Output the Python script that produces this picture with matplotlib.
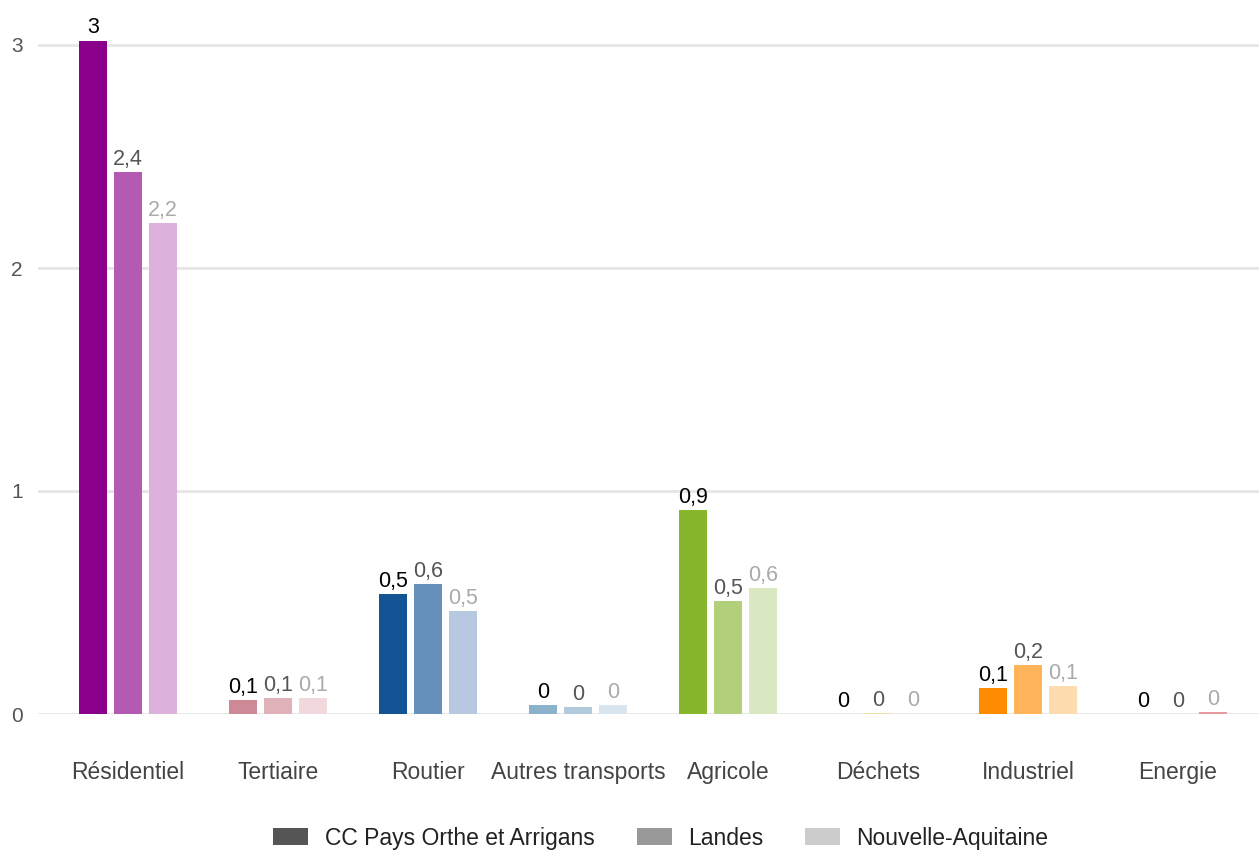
import matplotlib
matplotlib.use("Agg")
import matplotlib.pyplot as plt
from matplotlib.patches import Patch
import numpy as np

plt.rcParams['font.family'] = ['Liberation Sans', 'DejaVu Sans']

categories = ["Résidentiel", "Tertiaire", "Routier", "Autres transports",
              "Agricole", "Déchets", "Industriel", "Energie"]
series_names = ["CC Pays Orthe et Arrigans", "Landes", "Nouvelle-Aquitaine"]

cc_values = [3.02, 0.063, 0.538, 0.04, 0.915, 0.0, 0.117, 0.0]
landes_values = [2.43, 0.072, 0.583, 0.031, 0.507, 0.003, 0.22, 0.0]
na_values = [2.20, 0.072, 0.462, 0.04, 0.565, 0.002, 0.126, 0.008]

# one colour per category, three shades (dark -> light)
colors_cc = ["#8b008b", "#cd8a96", "#125494", "#8ab3cb", "#87b52c", "#e8d48a", "#ff8c00", "#d84050"]
colors_landes = ["#b35ab3", "#e0b1b9", "#6690bc", "#b1cbdc", "#b2d07a", "#f0e0a8", "#ffb35a", "#e68890"]
colors_na = ["#dcb1dc", "#f0d8dc", "#b6c9e0", "#d9e6ef", "#d9e8c0", "#f5ebc8", "#ffdbb0", "#e89aa0"]

legend_colors = ["#555555", "#999999", "#cccccc"]
label_colors = ["#000000", "#555555", "#aaaaaa"]


def fmt(v):
    s = f"{v:.1f}".replace(".", ",")
    if s.endswith(",0"):
        s = s[:-2]
    return s


fig = plt.figure(figsize=(12.59, 8.5), dpi=100)
ax = fig.add_axes([38 / 1259, 136 / 850, 1 - 38 / 1259, 714 / 850])

x = np.arange(len(categories))
step = 0.233
width = 0.187

all_series = [cc_values, landes_values, na_values]
all_colors = [colors_cc, colors_landes, colors_na]

for k, (vals, cols) in enumerate(zip(all_series, all_colors)):
    pos = x + (k - 1) * step
    ax.bar(pos, vals, width=width, color=cols, zorder=3)
    for p, v in zip(pos, vals):
        ax.annotate(fmt(v), (p, v), xytext=(0, 1.5), textcoords="offset points",
                    ha="center", va="bottom", fontsize=15.5, color=label_colors[k],
                    annotation_clip=False)

ax.set_xlim(-0.6, 7.54)
ax.set_ylim(0, 714 / 223)
ax.set_yticks([0, 1, 2, 3])
ax.set_yticklabels(["0", "1", "2", "3"])
ax.set_xticks(x)
ax.set_xticklabels(categories)

ax.grid(axis="y", color="#e6e6e6", linewidth=2, zorder=0)
ax.tick_params(axis="y", length=0, pad=11, labelsize=15, labelcolor="#555555")
ax.tick_params(axis="x", length=0, pad=34, labelsize=16.5, labelcolor="#444444")
for s in ax.spines.values():
    s.set_visible(False)

handles = [Patch(facecolor=c, edgecolor="none") for c in legend_colors]
fig.legend(handles, series_names, loc="center", bbox_to_anchor=(0.525, 0.014),
           ncol=3, frameon=False, fontsize=16.5, handlelength=1.53, handleheight=0.8,
           columnspacing=1.85, handletextpad=0.7, labelcolor="#222222")

fig.savefig("out.png", dpi=100)
